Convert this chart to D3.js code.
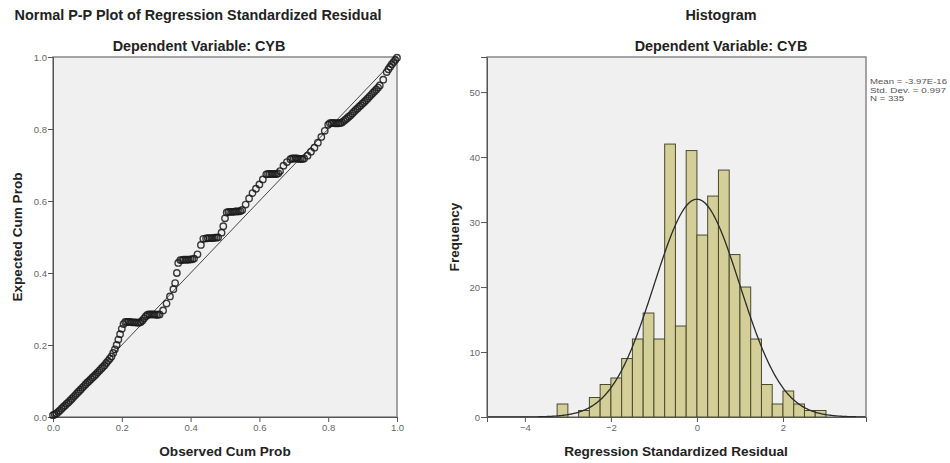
<!DOCTYPE html>
<html lang="en">
<head>
  <meta charset="utf-8">
  <title>P-P Plot and Histogram of Standardized Residuals</title>
  <script src="https://cdn.jsdelivr.net/npm/d3@7"></script>
  <style>
    body { margin: 0; background: #fff; font-family: "Liberation Sans", Arial, sans-serif; }
    .tick text { font-size: 9.5px; fill: #666; font-family: "Liberation Sans", Arial, sans-serif; }
    .tick line { stroke: #555; }
    .title { font-size: 14.4px; font-weight: bold; fill: #222; text-anchor: middle; }
    .axis-label { font-size: 13.6px; font-weight: bold; fill: #222; text-anchor: middle; }
    .stats { font-size: 7.5px; fill: #555; }
  </style>
</head>
<body>
  <svg id="chart" width="950" height="463"></svg>

  <script>
  // P-P plot points
  const ppObserved = [0.00, 0.005, 0.01, 0.015, 0.02, 0.025, 0.03, 0.035, 0.04, 0.045, 0.05, 0.055,
    0.06, 0.065, 0.07, 0.075, 0.08, 0.085, 0.09, 0.095,
    0.10, 0.105, 0.11, 0.115, 0.12, 0.125, 0.13, 0.135, 0.14, 0.145, 0.15, 0.155, 0.16, 0.165,
    0.17, 0.175, 0.18, 0.185, 0.19, 0.195,
    0.20, 0.205, 0.21, 0.215, 0.22, 0.225, 0.23, 0.235, 0.24, 0.245, 0.25, 0.255, 0.26, 0.265,
    0.27, 0.275, 0.28, 0.285, 0.29, 0.295, 0.30, 0.305, 0.31,
    0.32, 0.33, 0.34, 0.35, 0.355, 0.36, 0.364, 0.37, 0.375, 0.38, 0.385, 0.39, 0.395, 0.40,
    0.405, 0.41, 0.42, 0.43, 0.437, 0.445, 0.45, 0.455, 0.46, 0.465, 0.47, 0.475, 0.48,
    0.49, 0.495, 0.50, 0.505, 0.51, 0.515, 0.52, 0.525, 0.53, 0.535, 0.54, 0.545, 0.55,
    0.56, 0.57, 0.58, 0.59, 0.60, 0.61, 0.62, 0.625, 0.63, 0.635, 0.64, 0.645, 0.65, 0.655, 0.66,
    0.67, 0.68, 0.69, 0.695, 0.70, 0.705, 0.71, 0.715, 0.72, 0.725, 0.73, 0.74, 0.75, 0.76,
    0.77, 0.78, 0.79, 0.80, 0.805, 0.81, 0.815, 0.82, 0.825, 0.83, 0.835, 0.84, 0.845, 0.85,
    0.855, 0.86, 0.865, 0.87, 0.875, 0.88, 0.885, 0.89, 0.895, 0.90, 0.905, 0.91, 0.915, 0.92,
    0.925, 0.93, 0.935, 0.94, 0.945, 0.95, 0.96, 0.97, 0.975, 0.98, 0.985, 0.99, 0.995, 1.00];
  const ppExpected = [0.005, 0.007, 0.010, 0.014, 0.018, 0.023, 0.028, 0.032, 0.037, 0.041, 0.046, 0.051,
    0.056, 0.061, 0.066, 0.071, 0.076, 0.081, 0.086, 0.091,
    0.096, 0.100, 0.105, 0.110, 0.114, 0.119, 0.124, 0.129, 0.134, 0.139, 0.144, 0.150, 0.156, 0.162,
    0.168, 0.178, 0.188, 0.200, 0.215, 0.230,
    0.245, 0.258, 0.264, 0.264, 0.264, 0.264, 0.263, 0.263, 0.263, 0.262, 0.262, 0.264, 0.268, 0.274,
    0.280, 0.284, 0.285, 0.285, 0.285, 0.285, 0.284, 0.284, 0.285,
    0.296, 0.315, 0.335, 0.355, 0.372, 0.400, 0.428, 0.436, 0.436, 0.437, 0.437, 0.437, 0.437, 0.438,
    0.438, 0.440, 0.452, 0.478, 0.495, 0.496, 0.497, 0.497, 0.497, 0.497, 0.498, 0.498, 0.499,
    0.512, 0.530, 0.552, 0.568, 0.570, 0.570, 0.570, 0.570, 0.571, 0.571, 0.571, 0.572, 0.575,
    0.590, 0.607, 0.622, 0.634, 0.646, 0.660, 0.674, 0.675, 0.675, 0.675, 0.675, 0.675, 0.675, 0.677, 0.683,
    0.698, 0.708, 0.716, 0.718, 0.718, 0.718, 0.718, 0.717, 0.717, 0.717, 0.718, 0.726, 0.737, 0.748,
    0.762, 0.778, 0.795, 0.812, 0.816, 0.817, 0.817, 0.816, 0.816, 0.816, 0.817, 0.818, 0.822, 0.826,
    0.830, 0.834, 0.838, 0.843, 0.848, 0.853, 0.857, 0.862, 0.866, 0.871, 0.875, 0.880, 0.885, 0.890,
    0.895, 0.900, 0.905, 0.910, 0.915, 0.921, 0.937, 0.958, 0.966, 0.973, 0.980, 0.986, 0.992, 0.998];
  const ppTicks = [0, 0.2, 0.4, 0.6, 0.8, 1.0];

  // histogram bins (lower edges, width 0.25) and counts
  const binLower = [-3.25, -3.0, -2.75, -2.5, -2.25, -2.0, -1.75, -1.5, -1.25, -1.0,
    -0.75, -0.5, -0.25, 0, 0.25, 0.5, 0.75, 1.0, 1.25, 1.5, 1.75, 2.0, 2.25, 2.5, 2.75];
  const binCounts = [2, 0, 1, 3, 5, 6, 9, 12, 16, 12, 42, 14, 41, 28, 34, 38, 25, 20, 12, 5, 2, 4, 2, 1, 1];
  const binWidth = 0.25;
  const histXTicks = [-4, -2, 0, 2];
  const histYTicks = [0, 10, 20, 30, 40, 50];
  const resMean = -3.97e-16, resSD = 0.997, resN = 335;
  const statsLines = ["Mean = -3.97E-16", "Std. Dev. = 0.997", "N = 335"];
  const statsWidths = [77, 76, 34];

  const svg = d3.select("#chart");
  const plotBg = "#f0f0f0";

  // ---------- left: P-P plot ----------
  const px = d3.scaleLinear().domain([0, 1]).range([53, 397]);
  const py = d3.scaleLinear().domain([0, 1]).range([417, 57]);

  svg.append("rect")
    .attr("x", px(0)).attr("y", py(1))
    .attr("width", px(1) - px(0)).attr("height", py(0) - py(1))
    .attr("fill", plotBg).attr("stroke", "#888").attr("stroke-width", 1.5);

  svg.append("g")
    .attr("transform", `translate(0,${py(0)})`)
    .call(d3.axisBottom(px).tickValues(ppTicks).tickFormat(d3.format(".1f")).tickSize(5).tickPadding(2))
    .call(g => g.select(".domain").attr("stroke", "#555"));
  svg.append("g")
    .attr("transform", `translate(${px(0)},0)`)
    .call(d3.axisLeft(py).tickValues(ppTicks).tickFormat(d3.format(".1f")).tickSize(5).tickPadding(1))
    .call(g => g.select(".domain").attr("stroke", "#555"));

  svg.append("line")
    .attr("x1", px(0)).attr("y1", py(0))
    .attr("x2", px(1)).attr("y2", py(1))
    .attr("stroke", "#444").attr("stroke-width", 1);

  svg.append("g").selectAll("circle")
    .data(ppObserved.map((o, i) => [o, ppExpected[i]]))
    .enter().append("circle")
      .attr("cx", d => px(d[0]))
      .attr("cy", d => py(d[1]))
      .attr("r", 3.2)
      .attr("fill", "none")
      .attr("stroke", "#1a1a1a")
      .attr("stroke-opacity", 0.85)
      .attr("stroke-width", 1.4);

  svg.append("text").attr("class", "title").attr("x", 198).attr("y", 20)
    .text("Normal P-P Plot of Regression Standardized Residual");
  svg.append("text").attr("class", "title").attr("x", 199).attr("y", 51)
    .text("Dependent Variable: CYB");
  svg.append("text").attr("class", "axis-label").attr("x", 225).attr("y", 456)
    .text("Observed Cum Prob");
  svg.append("text").attr("class", "axis-label")
    .attr("transform", "translate(22,237) rotate(-90)")
    .text("Expected Cum Prob");

  // ---------- right: histogram ----------
  const hx = d3.scaleLinear().domain([-4.88, 3.93]).range([487, 866]);
  const hy = d3.scaleLinear().domain([0, 55.4]).range([417, 57]);

  svg.append("rect")
    .attr("x", hx.range()[0]).attr("y", hy.range()[1])
    .attr("width", hx.range()[1] - hx.range()[0]).attr("height", hy.range()[0] - hy.range()[1])
    .attr("fill", plotBg).attr("stroke", "#888").attr("stroke-width", 1.5);

  const bins = binLower.map((b, i) => ({ x0: b, x1: b + binWidth, n: binCounts[i] }))
    .filter(d => d.n > 0);
  svg.append("g").selectAll("rect")
    .data(bins)
    .enter().append("rect")
      .attr("x", d => hx(d.x0))
      .attr("y", d => hy(d.n))
      .attr("width", d => hx(d.x1) - hx(d.x0))
      .attr("height", d => hy(0) - hy(d.n))
      .attr("fill", "#d4cf99")
      .attr("stroke", "#4a4a2c")
      .attr("stroke-width", 1);

  // fitted normal curve from the stated mean / sd / N
  const curveX = d3.range(-4.88, 3.94, 0.02);
  const dens = x => resN * binWidth * Math.exp(-0.5 * ((x - resMean) / resSD) ** 2) / (resSD * Math.sqrt(2 * Math.PI));
  svg.append("path")
    .datum(curveX)
    .attr("d", d3.line().x(d => hx(d)).y(d => hy(dens(d))))
    .attr("fill", "none")
    .attr("stroke", "#2b2b2b")
    .attr("stroke-width", 1.3);

  svg.append("g")
    .attr("transform", `translate(0,${hy(0)})`)
    .call(d3.axisBottom(hx).tickValues(histXTicks).tickFormat(d3.format("d")).tickSize(5).tickPadding(2))
    .call(g => g.select(".domain").attr("stroke", "#555"));
  svg.append("g")
    .attr("transform", `translate(${hx.range()[0]},0)`)
    .call(d3.axisLeft(hy).tickValues(histYTicks).tickFormat(d3.format("d")).tickSize(6).tickPadding(1))
    .call(g => g.select(".domain").attr("stroke", "#555"));

  svg.append("text").attr("class", "title").attr("x", 721).attr("y", 20).text("Histogram");
  svg.append("text").attr("class", "title").attr("x", 721).attr("y", 51).text("Dependent Variable: CYB");
  svg.append("text").attr("class", "axis-label").attr("x", 676).attr("y", 456)
    .text("Regression Standardized Residual");
  svg.append("text").attr("class", "axis-label")
    .attr("transform", "translate(459,237) rotate(-90)")
    .text("Frequency");

  svg.append("g").selectAll("text")
    .data(statsLines)
    .enter().append("text")
      .attr("class", "stats")
      .attr("x", 870)
      .attr("y", (d, i) => 84 + i * 8.6)
      .attr("textLength", (d, i) => statsWidths[i])
      .attr("lengthAdjust", "spacingAndGlyphs")
      .text(d => d);
  </script>
</body>
</html>
